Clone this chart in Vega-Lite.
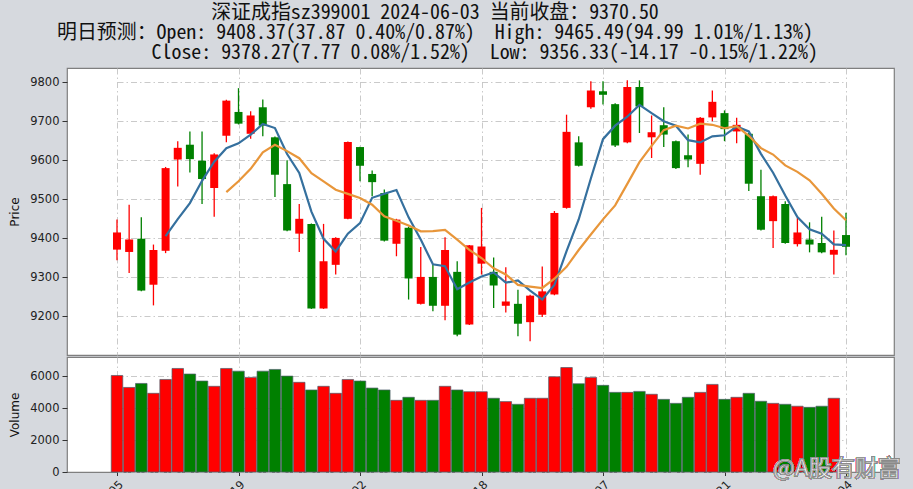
{
  "$schema": "https://vega.github.io/schema/vega-lite/v6.json",
  "background": "#d6d9de",
  "padding": {"left": 8, "top": 2, "right": 15, "bottom": 0},
  "title": {
    "text": [
      "深证成指sz399001 2024-06-03 当前收盘：9370.50",
      "明日预测：Open: 9408.37(37.87 0.40%/0.87%)\u00a0\u00a0High: 9465.49(94.99 1.01%/1.13%)",
      "\u200b\u00a0\u00a0\u00a0\u00a0\u00a0\u00a0\u00a0\u00a0\u00a0\u00a0Close: 9378.27(7.77 0.08%/1.52%)\u00a0\u00a0Low: 9356.33(-14.17 -0.15%/1.22%)"
    ],
    "anchor": "middle",
    "frame": "group",
    "dx": -45.5,
    "offset": 5,
    "font": "Noto Sans Mono CJK SC, Noto Sans CJK SC, monospace",
    "fontSize": 19.9,
    "fontWeight": "normal",
    "lineHeight": 20,
    "color": "#111111"
  },
  "data": {
    "values": [
      {"date": "2024-03-05", "open": 9371, "high": 9448, "low": 9344, "close": 9415, "volume": 6060, "ma5": null, "ma10": null},
      {"date": "2024-03-06", "open": 9365, "high": 9486, "low": 9311, "close": 9397, "volume": 5310, "ma5": null, "ma10": null},
      {"date": "2024-03-07", "open": 9399, "high": 9454, "low": 9264, "close": 9266, "volume": 5560, "ma5": null, "ma10": null},
      {"date": "2024-03-08", "open": 9281, "high": 9384, "low": 9228, "close": 9370, "volume": 4940, "ma5": null, "ma10": null},
      {"date": "2024-03-11", "open": 9368, "high": 9583, "low": 9362, "close": 9580, "volume": 5810, "ma5": 9405.6, "ma10": null},
      {"date": "2024-03-12", "open": 9602, "high": 9649, "low": 9533, "close": 9632, "volume": 6500, "ma5": 9449.0, "ma10": null},
      {"date": "2024-03-13", "open": 9640, "high": 9674, "low": 9569, "close": 9603, "volume": 6150, "ma5": 9490.2, "ma10": null},
      {"date": "2024-03-14", "open": 9599, "high": 9674, "low": 9488, "close": 9552, "volume": 5710, "ma5": 9547.4, "ma10": null},
      {"date": "2024-03-15", "open": 9529, "high": 9618, "low": 9455, "close": 9615, "volume": 5380, "ma5": 9596.4, "ma10": null},
      {"date": "2024-03-18", "open": 9663, "high": 9755, "low": 9646, "close": 9753, "volume": 6500, "ma5": 9631.0, "ma10": 9518.3},
      {"date": "2024-03-19", "open": 9724, "high": 9785, "low": 9692, "close": 9694, "volume": 6330, "ma5": 9643.4, "ma10": 9546.2},
      {"date": "2024-03-20", "open": 9668, "high": 9726, "low": 9655, "close": 9715, "volume": 5940, "ma5": 9665.8, "ma10": 9578.0},
      {"date": "2024-03-21", "open": 9736, "high": 9756, "low": 9662, "close": 9689, "volume": 6330, "ma5": 9693.2, "ma10": 9620.3},
      {"date": "2024-03-22", "open": 9659, "high": 9661, "low": 9506, "close": 9563, "volume": 6440, "ma5": 9682.8, "ma10": 9639.6},
      {"date": "2024-03-25", "open": 9539, "high": 9600, "low": 9418, "close": 9420, "volume": 6020, "ma5": 9616.2, "ma10": 9623.6},
      {"date": "2024-03-26", "open": 9412, "high": 9488, "low": 9365, "close": 9450, "volume": 5630, "ma5": 9567.4, "ma10": 9605.4},
      {"date": "2024-03-27", "open": 9437, "high": 9438, "low": 9219, "close": 9220, "volume": 5150, "ma5": 9468.4, "ma10": 9567.1},
      {"date": "2024-03-28", "open": 9220, "high": 9437, "low": 9219, "close": 9341, "volume": 5380, "ma5": 9398.8, "ma10": 9546.0},
      {"date": "2024-03-29", "open": 9332, "high": 9403, "low": 9307, "close": 9401, "volume": 4940, "ma5": 9366.4, "ma10": 9524.6},
      {"date": "2024-04-01", "open": 9450, "high": 9648, "low": 9449, "close": 9647, "volume": 5810, "ma5": 9411.8, "ma10": 9514.0},
      {"date": "2024-04-02", "open": 9634, "high": 9635, "low": 9546, "close": 9586, "volume": 5710, "ma5": 9439.0, "ma10": 9503.2},
      {"date": "2024-04-03", "open": 9565, "high": 9574, "low": 9508, "close": 9544, "volume": 5270, "ma5": 9503.8, "ma10": 9486.1},
      {"date": "2024-04-08", "open": 9516, "high": 9525, "low": 9392, "close": 9394, "volume": 5150, "ma5": 9514.4, "ma10": 9456.6},
      {"date": "2024-04-09", "open": 9386, "high": 9450, "low": 9354, "close": 9448, "volume": 4500, "ma5": 9523.8, "ma10": 9445.1},
      {"date": "2024-04-10", "open": 9427, "high": 9430, "low": 9243, "close": 9297, "volume": 4690, "ma5": 9453.8, "ma10": 9432.8},
      {"date": "2024-04-11", "open": 9232, "high": 9378, "low": 9230, "close": 9301, "volume": 4500, "ma5": 9396.8, "ma10": 9417.9},
      {"date": "2024-04-12", "open": 9301, "high": 9332, "low": 9213, "close": 9227, "volume": 4500, "ma5": 9333.4, "ma10": 9418.6},
      {"date": "2024-04-15", "open": 9227, "high": 9403, "low": 9190, "close": 9370, "volume": 5380, "ma5": 9328.6, "ma10": 9421.5},
      {"date": "2024-04-16", "open": 9314, "high": 9341, "low": 9149, "close": 9153, "volume": 5150, "ma5": 9269.6, "ma10": 9396.7},
      {"date": "2024-04-17", "open": 9179, "high": 9383, "low": 9178, "close": 9382, "volume": 5040, "ma5": 9286.6, "ma10": 9370.2},
      {"date": "2024-04-18", "open": 9335, "high": 9478, "low": 9307, "close": 9379, "volume": 5040, "ma5": 9302.2, "ma10": 9349.5},
      {"date": "2024-04-19", "open": 9314, "high": 9351, "low": 9221, "close": 9279, "volume": 4630, "ma5": 9312.6, "ma10": 9323.0},
      {"date": "2024-04-22", "open": 9227, "high": 9326, "low": 9210, "close": 9238, "volume": 4420, "ma5": 9286.2, "ma10": 9307.4},
      {"date": "2024-04-23", "open": 9232, "high": 9268, "low": 9149, "close": 9181, "volume": 4250, "ma5": 9291.8, "ma10": 9280.7},
      {"date": "2024-04-24", "open": 9185, "high": 9255, "low": 9136, "close": 9253, "volume": 4630, "ma5": 9266.0, "ma10": 9276.3},
      {"date": "2024-04-25", "open": 9204, "high": 9328, "low": 9198, "close": 9264, "volume": 4630, "ma5": 9243.0, "ma10": 9272.6},
      {"date": "2024-04-26", "open": 9256, "high": 9470, "low": 9254, "close": 9465, "volume": 5980, "ma5": 9280.2, "ma10": 9296.4},
      {"date": "2024-04-29", "open": 9478, "high": 9717, "low": 9476, "close": 9673, "volume": 6560, "ma5": 9367.2, "ma10": 9326.7},
      {"date": "2024-04-30", "open": 9646, "high": 9662, "low": 9584, "close": 9586, "volume": 5540, "ma5": 9448.2, "ma10": 9370.0},
      {"date": "2024-05-06", "open": 9736, "high": 9803, "low": 9732, "close": 9779, "volume": 5940, "ma5": 9553.4, "ma10": 9409.7},
      {"date": "2024-05-07", "open": 9777, "high": 9803, "low": 9743, "close": 9768, "volume": 5440, "ma5": 9654.2, "ma10": 9448.6},
      {"date": "2024-05-08", "open": 9744, "high": 9746, "low": 9634, "close": 9638, "volume": 5000, "ma5": 9688.8, "ma10": 9484.5},
      {"date": "2024-05-09", "open": 9646, "high": 9805, "low": 9644, "close": 9788, "volume": 5000, "ma5": 9711.8, "ma10": 9539.5},
      {"date": "2024-05-10", "open": 9788, "high": 9805, "low": 9670, "close": 9738, "volume": 5060, "ma5": 9742.2, "ma10": 9595.2},
      {"date": "2024-05-13", "open": 9659, "high": 9715, "low": 9606, "close": 9672, "volume": 4880, "ma5": 9720.8, "ma10": 9637.1},
      {"date": "2024-05-14", "open": 9690, "high": 9736, "low": 9634, "close": 9666, "volume": 4560, "ma5": 9700.4, "ma10": 9677.3},
      {"date": "2024-05-15", "open": 9649, "high": 9651, "low": 9578, "close": 9580, "volume": 4310, "ma5": 9688.8, "ma10": 9688.8},
      {"date": "2024-05-16", "open": 9613, "high": 9666, "low": 9582, "close": 9602, "volume": 4690, "ma5": 9651.6, "ma10": 9681.7},
      {"date": "2024-05-17", "open": 9591, "high": 9711, "low": 9563, "close": 9709, "volume": 5000, "ma5": 9645.8, "ma10": 9694.0},
      {"date": "2024-05-20", "open": 9710, "high": 9779, "low": 9700, "close": 9750, "volume": 5500, "ma5": 9661.4, "ma10": 9691.1},
      {"date": "2024-05-21", "open": 9721, "high": 9728, "low": 9649, "close": 9680, "volume": 4560, "ma5": 9664.2, "ma10": 9682.3},
      {"date": "2024-05-22", "open": 9674, "high": 9709, "low": 9644, "close": 9691, "volume": 4690, "ma5": 9686.4, "ma10": 9687.6},
      {"date": "2024-05-23", "open": 9668, "high": 9670, "low": 9521, "close": 9540, "volume": 4940, "ma5": 9674.0, "ma10": 9662.8},
      {"date": "2024-05-24", "open": 9508, "high": 9576, "low": 9420, "close": 9422, "volume": 4440, "ma5": 9616.6, "ma10": 9631.2},
      {"date": "2024-05-27", "open": 9444, "high": 9510, "low": 9375, "close": 9508, "volume": 4310, "ma5": 9568.2, "ma10": 9614.8},
      {"date": "2024-05-28", "open": 9488, "high": 9495, "low": 9386, "close": 9388, "volume": 4250, "ma5": 9509.8, "ma10": 9587.0},
      {"date": "2024-05-29", "open": 9385, "high": 9452, "low": 9379, "close": 9415, "volume": 4130, "ma5": 9454.6, "ma10": 9570.5},
      {"date": "2024-05-30", "open": 9397, "high": 9441, "low": 9364, "close": 9384, "volume": 4060, "ma5": 9423.4, "ma10": 9548.7},
      {"date": "2024-05-31", "open": 9388, "high": 9455, "low": 9362, "close": 9364, "volume": 4130, "ma5": 9411.8, "ma10": 9514.2},
      {"date": "2024-06-03", "open": 9358, "high": 9420, "low": 9307, "close": 9370.5, "volume": 4630, "ma5": 9384.3, "ma10": 9476.3},
      {"date": "2024-06-04", "open": 9408.37, "high": 9465.49, "low": 9356.33, "close": 9378.27, "volume": null, "ma5": 9382.4, "ma10": 9446.1}
    ]
  },
  "spacing": 0,
  "resolve": {"scale": {"x": "shared"}},
  "vconcat": [
    {
      "width": 827,
      "height": 287,
      "encoding": {
        "x": {
          "field": "date",
          "type": "ordinal",
          "scale": {"type": "point", "range": [50, 779], "padding": 0},
          "axis": {
            "values": ["2024-03-05", "2024-03-19", "2024-04-02", "2024-04-18", "2024-05-07", "2024-05-21", "2024-06-04"],
            "labels": false,
            "ticks": false,
            "domain": false,
            "grid": true,
            "title": null,
            "minExtent": 0
          }
        }
      },
      "layer": [
        {
          "mark": {"type": "rule", "strokeWidth": 1.3},
          "encoding": {
            "y": {
              "field": "low",
              "type": "quantitative",
              "scale": {"domain": [9100.8, 9836.7], "nice": false, "zero": false},
              "axis": {"values": [9200, 9300, 9400, 9500, 9600, 9700, 9800], "format": "d", "title": "Price", "grid": true}
            },
            "y2": {"field": "high"},
            "color": {"condition": {"test": "datum.close > datum.open", "value": "#ff0000"}, "value": "#008000"}
          }
        },
        {
          "mark": {"type": "bar", "size": 8},
          "encoding": {
            "y": {"field": "open", "type": "quantitative"},
            "y2": {"field": "close"},
            "color": {"condition": {"test": "datum.close > datum.open", "value": "#ff0000"}, "value": "#008000"}
          }
        },
        {
          "mark": {"type": "line", "color": "#35709e", "strokeWidth": 2.2},
          "encoding": {"y": {"field": "ma5", "type": "quantitative"}}
        },
        {
          "mark": {"type": "line", "color": "#e8963a", "strokeWidth": 2.2},
          "encoding": {"y": {"field": "ma10", "type": "quantitative"}}
        }
      ]
    },
    {
      "width": 827,
      "height": 115,
      "encoding": {
        "x": {
          "field": "date",
          "type": "ordinal",
          "scale": {"type": "point", "range": [50, 779], "padding": 0},
          "axis": {
            "values": ["2024-03-05", "2024-03-19", "2024-04-02", "2024-04-18", "2024-05-07", "2024-05-21", "2024-06-04"],
            "labelAngle": -45,
            "labelAlign": "right",
            "labelBaseline": "top",
            "labelOverlap": false,
            "tickSize": 3.5,
            "labelPadding": 3,
            "labelDx": 4,
            "domain": false,
            "grid": true,
            "title": null
          }
        }
      },
      "layer": [
        {
          "mark": {"type": "bar", "size": 11.5, "stroke": "#4d5b6a", "strokeWidth": 0.7},
          "encoding": {
            "y": {
              "field": "volume",
              "type": "quantitative",
              "scale": {"domain": [0, 7220], "nice": false},
              "axis": {"values": [0, 2000, 4000, 6000], "format": "d", "title": "Volume", "grid": true, "labelOverlap": false}
            },
            "color": {"condition": {"test": "datum.close > datum.open", "value": "#ff0000"}, "value": "#008000"}
          }
        },
        {
          "mark": {"type": "text", "text": "@A股有财富", "align": "left", "baseline": "alphabetic", "font": "Noto Sans CJK SC", "fontSize": 23, "fill": "#ffffff", "stroke": "#8a8a8a", "strokeWidth": 0.8, "opacity": 0.95},
          "encoding": {
            "x": {"datum": "2024-05-27"},
            "y": {
              "datum": -230,
              "type": "quantitative",
              "axis": {"values": [0, 2000, 4000, 6000], "format": "d", "title": "Volume", "grid": true, "labelOverlap": false}
            }
          }
        }
      ]
    }
  ],
  "config": {
    "view": {"fill": "#ffffff", "stroke": "#7f7f7f", "strokeWidth": 1.2},
    "axis": {
      "labelFont": "DejaVu Sans",
      "labelFontSize": 11.5,
      "labelColor": "#222222",
      "titleFont": "DejaVu Sans",
      "titleFontSize": 12,
      "titleFontWeight": "normal",
      "titleColor": "#111111",
      "tickColor": "#333333",
      "tickSize": 5,
      "gridColor": "#c4c4c4",
      "gridDash": [6, 3, 1.5, 3],
      "gridWidth": 0.9,
      "domain": false
    },
    "axisY": {"titlePadding": 8, "labelPadding": 3}
  }
}
